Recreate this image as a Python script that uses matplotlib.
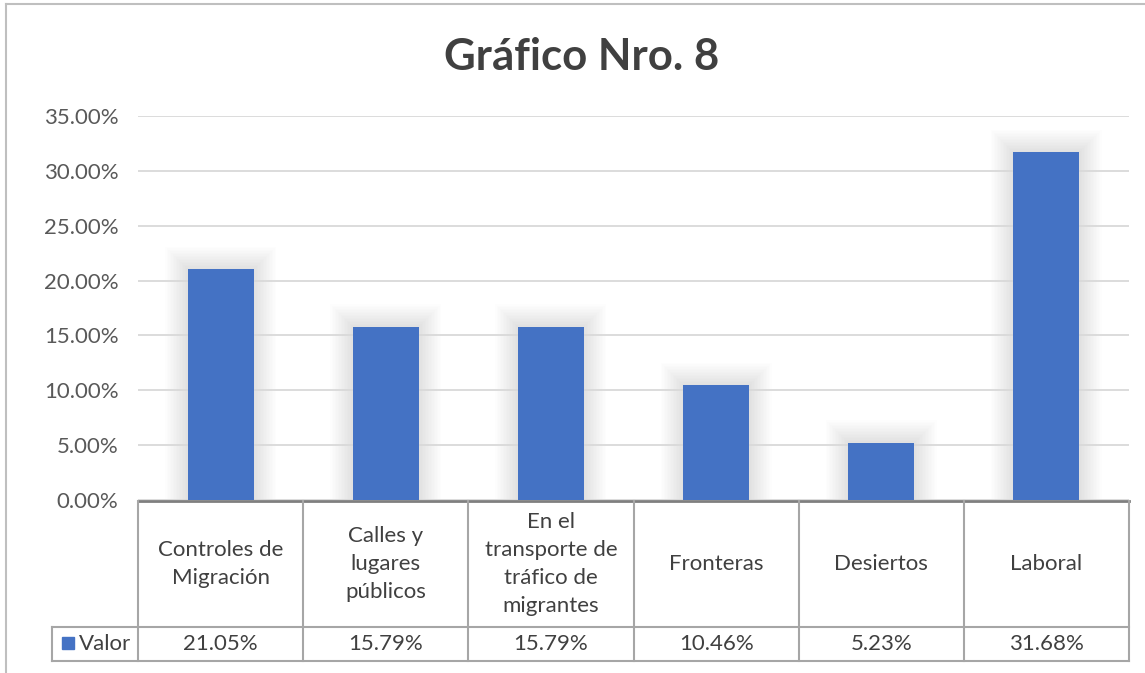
import matplotlib.pyplot as plt
from matplotlib.lines import Line2D
from matplotlib.patches import Rectangle
import numpy as np

categories = ['Controles de\nMigración', 'Calles y\nlugares\npúblicos',
              'En el\ntransporte de\ntráfico de\nmigrantes', 'Fronteras',
              'Desiertos', 'Laboral']
values = [21.05, 15.79, 15.79, 10.46, 5.23, 31.68]
value_labels = ['21.05%', '15.79%', '15.79%', '10.46%', '5.23%', '31.68%']
yticks = [0, 5, 10, 15, 20, 25, 30, 35]
series_name = 'Valor'
title = 'Gráfico Nro. 8'

BLUE = '#4472C4'
TXT = '#404040'
GRID = '#d9d9d9'
LINE = '#a6a6a6'

plt.rcParams['font.family'] = ['Lato', 'DejaVu Sans']

W, H = 1145, 673
fig = plt.figure(figsize=(W / 100, H / 100), dpi=100)


def fx(px):
    return px / W


def fy(py):
    return 1 - py / H


# chart border
fig.add_artist(Line2D([fx(6), fx(6)], [fy(4), fy(673)], color='#bfbfbf', lw=1.5))
fig.add_artist(Line2D([fx(6), fx(1145)], [fy(4), fy(4)], color='#bfbfbf', lw=1.5))

fig.text(fx(582), fy(57), title, ha='center', va='center', fontsize=31.5,
         fontweight='bold', color=TXT)

left, right, top, bottom = 138, 1129, 116, 500
ax = fig.add_axes([fx(left), fy(bottom), fx(right) - fx(left), fy(top) - fy(bottom)])
x = np.arange(len(values))
n = len(values)

# soft shadow around bars
px_x = n / (right - left)
px_y = 35 / (bottom - top)
for i, v in zip(x, values):
    for k in range(1, 16):
        ax.add_patch(Rectangle((i - 0.2 - k * 1.5 * px_x, 0), 0.4 + k * 3 * px_x,
                               v + k * 1.5 * px_y, color='black', alpha=0.009,
                               lw=0, zorder=1))

ax.bar(x, values, width=0.4, color=BLUE, zorder=3)
ax.set_xlim(-0.5, n - 0.5)
ax.set_ylim(0, 35)
ax.set_yticks(yticks)
ax.set_yticklabels(['%.2f%%' % t for t in yticks], fontsize=16, color='#595959')
ax.tick_params(axis='y', length=0, pad=14)
ax.set_xticks([])
ax.grid(axis='y', color=GRID, lw=1.3, zorder=0)
for s in ax.spines.values():
    s.set_visible(False)

# data table below the plot
col_edges = np.linspace(left, right, n + 1)
row_top, row_mid, row_bot = 501, 627, 661
legend_left = 52
fig.add_artist(Line2D([fx(left), fx(right)], [fy(row_top), fy(row_top)],
                      color='#7f7f7f', lw=2))
for e in col_edges:
    fig.add_artist(Line2D([fx(e), fx(e)], [fy(row_top), fy(row_bot)], color=LINE, lw=1.5))
fig.add_artist(Line2D([fx(legend_left), fx(legend_left)], [fy(row_mid), fy(row_bot)],
                      color=LINE, lw=1.5))
for yy in (row_mid, row_bot):
    fig.add_artist(Line2D([fx(legend_left), fx(right)], [fy(yy), fy(yy)], color=LINE, lw=1.5))

for i in range(n):
    cx = (col_edges[i] + col_edges[i + 1]) / 2
    fig.text(fx(cx), fy((row_top + row_mid) / 2), categories[i], ha='center',
             va='center', fontsize=16, color=TXT, linespacing=1.5)
    fig.text(fx(cx), fy((row_mid + row_bot) / 2), value_labels[i], ha='center',
             va='center', fontsize=16, color=TXT)

fig.add_artist(Rectangle((fx(62), fy(649)), fx(12), fy(637) - fy(649), color=BLUE))
fig.text(fx(79), fy((row_mid + row_bot) / 2), series_name, ha='left', va='center',
         fontsize=16, color=TXT)

fig.savefig('out.png', dpi=100)
